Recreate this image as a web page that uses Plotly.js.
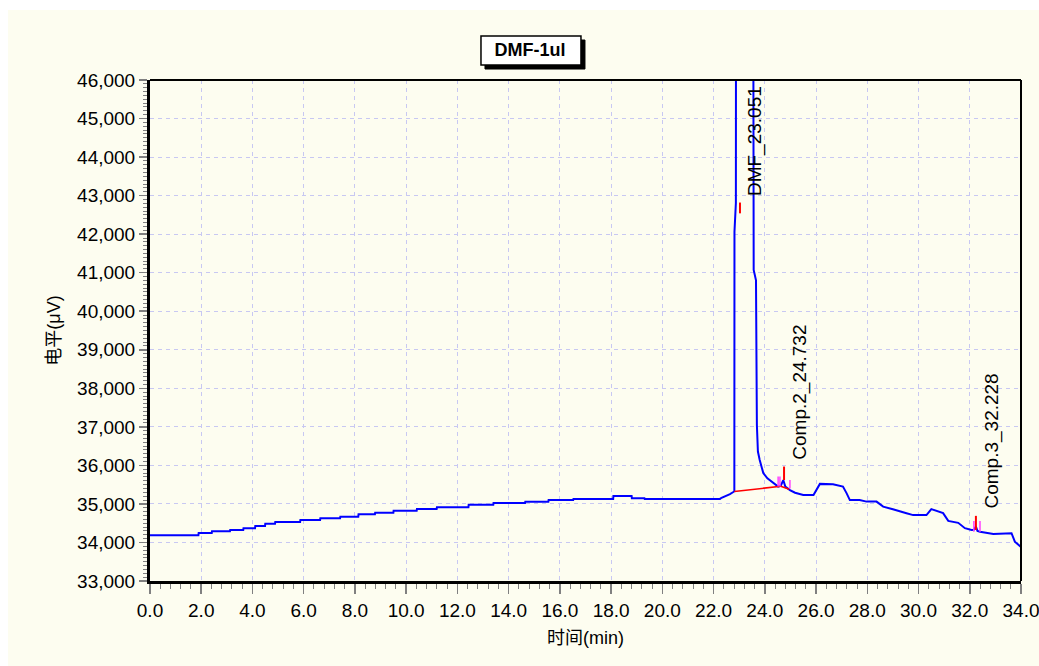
<!DOCTYPE html>
<html>
<head>
<meta charset="utf-8">
<script src="https://cdn.plot.ly/plotly-3.0.1.min.js"></script>
<style>
  html, body { margin: 0; padding: 0; background: #ffffff; overflow: hidden; width: 1039px; height: 666px; }
  #chart { position: absolute; left: 8px; top: 10px; width: 1050px; height: 656px; }
</style>
</head>
<body>
<div id="chart"></div>
<script>
// Chromatogram signal (time in min, signal in µV)
const timeMin = [
  0.00, 1.89, 1.90, 2.41, 2.42, 3.12, 3.13, 3.64, 3.65, 4.10, 4.11, 4.49, 4.50, 4.88, 4.89,
  5.86, 5.87, 6.64, 6.65, 7.42, 7.43, 8.13, 8.14, 8.78, 8.79, 9.50, 9.51, 10.41, 10.42,
  11.19, 11.20, 12.43, 12.44, 13.40, 13.41, 14.64, 14.65, 15.55, 15.56, 16.52, 16.53,
  18.08, 18.09, 18.80, 18.81, 19.30, 19.31, 22.25, 22.31, 22.51, 22.64, 22.77, 22.81,
  22.815, 22.87, 22.875, 23.55, 23.565, 23.655, 23.69, 23.73, 23.80, 23.88, 23.94, 24.10,
  24.33, 24.52, 24.62, 24.72, 24.80, 24.98, 25.18, 25.50, 25.90, 26.02, 26.15, 26.66,
  27.05, 27.19, 27.32, 27.70, 27.97, 28.36, 28.62, 29.00, 29.27, 29.53, 29.79, 30.31,
  30.50, 30.83, 30.96, 31.16, 31.55, 31.81, 32.07, 32.16, 32.24, 32.30, 32.40, 32.92,
  33.63, 33.76, 33.96, 34.00
];
const signalUV = [
  34185, 34185, 34246, 34246, 34289, 34289, 34324, 34324, 34367, 34367, 34428, 34428, 34488, 34488, 34532,
  34532, 34583, 34583, 34627, 34627, 34670, 34670, 34730, 34730, 34774, 34774, 34826, 34826, 34869,
  34869, 34912, 34912, 34981, 34981, 35024, 35024, 35059, 35059, 35102, 35102, 35130,
  35130, 35205, 35205, 35150, 35150, 35130, 35130, 35160, 35210, 35255, 35310, 35330,
  42060, 42810, 48000, 48000, 41070, 40800, 37050, 36360, 36140, 35925, 35800, 35665,
  35535, 35450, 35470, 35620, 35450, 35360, 35290, 35230, 35230, 35360, 35520, 35510,
  35450, 35280, 35100, 35100, 35060, 35060, 34930, 34860, 34800, 34760, 34710, 34710,
  34865, 34800, 34760, 34560, 34510, 34370, 34325, 34330, 34410, 34300, 34280, 34220,
  34240, 34020, 33890, 33880
];

// Integration baseline (red) and peak markers
const baselineTime = [22.81, 24.62, null, 24.62, 24.95];
const baselineUV   = [35320, 35460, null, 35460, 35380];
const peakTickTime = [23.03, 23.03, null, 24.75, 24.75, null, 32.24, 32.24];
const peakTickUV   = [42540, 42820, null, 35620, 35970, null, 34325, 34690];
const edgeTickTime = [24.52, 24.52, null, 24.59, 24.59, null, 24.98, 24.98, null, 32.16, 32.16, null, 32.40, 32.40];
const edgeTickUV   = [35450, 35710, null, 35450, 35710, null, 35400, 35620, null, 34280, 34560, null, 34280, 34560];

// Peak labels
const peakLabels = ["DMF_23.051", "Comp.2_24.732", "Comp.3_32.228"];
const peakLabelTime = [23.64, 25.37, 32.86];
const peakLabelUV = [44405, 37910, 36640];

const chartTitle = "DMF-1ul";
const xTitle = "时间(min)";
const yTitle = "电平(μV)";

const FONT = "'Liberation Sans', Arial, 'Noto Sans CJK SC', sans-serif";

const traces = [
  { x: timeMin, y: signalUV, type: "scatter", mode: "lines",
    line: { color: "#0000ff", width: 2 }, hoverinfo: "x+y", showlegend: false },
  { x: baselineTime, y: baselineUV, type: "scatter", mode: "lines",
    line: { color: "#ff0000", width: 1.5 }, showlegend: false },
  { x: edgeTickTime, y: edgeTickUV, type: "scatter", mode: "lines",
    line: { color: "#ff40ff", width: 1.5 }, showlegend: false },
  { x: peakTickTime, y: peakTickUV, type: "scatter", mode: "lines",
    line: { color: "#ff0000", width: 2 }, showlegend: false }
];

const annotations = peakLabels.map((t, i) => ({
  x: peakLabelTime[i], y: peakLabelUV[i], xref: "x", yref: "y",
  text: t, textangle: -90, showarrow: false, xanchor: "center", yanchor: "middle",
  font: { family: FONT, size: 19, color: "#000000" }
}));

const W = 1050;
const layout = {
  width: W, height: 656,
  margin: { l: 142, r: W - 1013, t: 70, b: 85 },
  paper_bgcolor: "#fdfdf0",
  plot_bgcolor: "#fdfdf0",
  font: { family: FONT, size: 19, color: "#000000" },
  showlegend: false,
  title: {
    text: "<b>" + chartTitle + "</b>",
    xref: "container", yref: "container", x: 522 / W, y: 0.939,
    xanchor: "center", yanchor: "middle",
    font: { family: FONT, size: 18, color: "#000000" }
  },
  xaxis: {
    range: [0, 34], tick0: 0, dtick: 2, tickformat: ".1f",
    showline: true, linecolor: "#000000", linewidth: 3, mirror: false,
    showgrid: true, gridcolor: "#c8c8f2", gridwidth: 1, griddash: "4px,4px",
    zeroline: false,
    ticks: "outside", ticklen: 10, tickwidth: 1.5, tickcolor: "#808080",
    tickfont: { family: FONT, size: 19, color: "#000000" },
    minor: { dtick: 0.4, ticks: "outside", ticklen: 5, tickwidth: 1, tickcolor: "#808080", showgrid: false },
    title: { text: xTitle, standoff: 12, font: { family: FONT, size: 18, color: "#000000" } }
  },
  yaxis: {
    range: [33000, 46000], tick0: 33000, dtick: 1000, tickformat: ",d",
    showline: true, linecolor: "#000000", linewidth: 3, mirror: false,
    showgrid: true, gridcolor: "#c8c8f2", gridwidth: 1, griddash: "4px,4px",
    zeroline: false,
    ticks: "outside", ticklen: 8, tickwidth: 1.5, tickcolor: "#808080",
    tickfont: { family: FONT, size: 19, color: "#000000" },
    minor: { dtick: 100, ticks: "outside", ticklen: 4, tickwidth: 1, tickcolor: "#808080", showgrid: false },
    title: { text: yTitle, standoff: 12, font: { family: FONT, size: 18, color: "#000000" } }
  },
  shapes: [
    { type: "line", xref: "paper", yref: "paper", x0: 0, x1: 1, y0: 1, y1: 1,
      line: { color: "#000000", width: 2 } },
    { type: "line", xref: "paper", yref: "paper", x0: 1, x1: 1, y0: 0, y1: 1,
      line: { color: "#000000", width: 2 } },
    // title box shadow
    { type: "rect", xref: "paper", yref: "paper", x0: 0.3846, x1: 0.4994, y0: 1.0219, y1: 1.0798,
      fillcolor: "#000000", line: { color: "#000000", width: 1 } },
    // title box
    { type: "rect", xref: "paper", yref: "paper", x0: 0.3800, x1: 0.4948, y0: 1.0299, y1: 1.0878,
      fillcolor: "#ffffff", line: { color: "#000000", width: 1.5 } }
  ],
  annotations: annotations
};

Plotly.newPlot("chart", traces, layout, { displayModeBar: false, staticPlot: true });
</script>
</body>
</html>
